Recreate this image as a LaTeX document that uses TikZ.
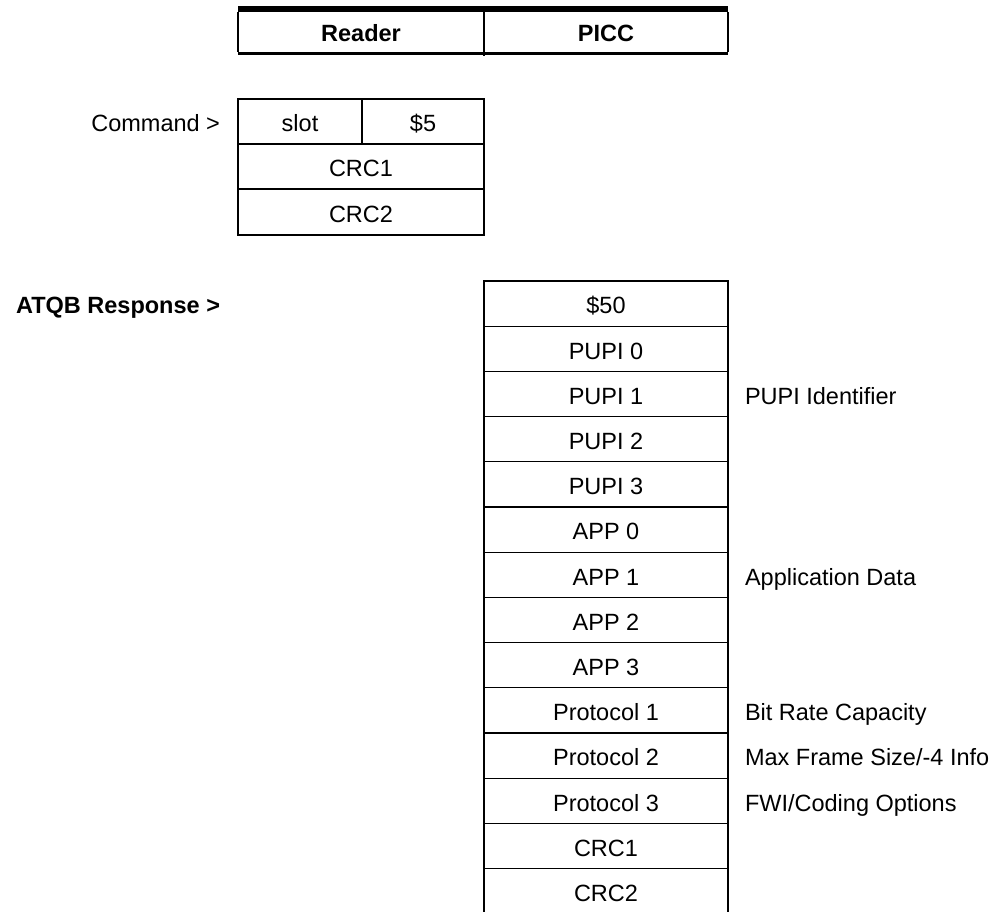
\documentclass[tikz,border=0pt]{standalone}
\usepackage{fontspec}
\setmainfont{Liberation Sans}
\newcommand\cellfont{\fontsize{23.5}{28}\selectfont}
\begin{document}
\begin{tikzpicture}[x=1pt,y=-1pt,
  cell/.style={draw, line width=1.2pt, inner sep=0pt, outer sep=0pt,
    minimum height=45.2pt, text height=20.5pt, text depth=0pt, font=\cellfont},
  lbl/.style={inner sep=0pt, outer sep=0pt, text height=20.5pt, text depth=0pt, font=\cellfont},
  thinrule/.style={line width=1.2pt}]
\clip (0,0) rectangle (1008,911);
% header
\draw[line width=6pt] (238,9) -- (728,9);
\draw[line width=3pt] (238,53.5) -- (728,53.5);
\draw[thinrule] (238,12) -- (238,52);
\draw[thinrule] (728,12) -- (728,52);
\draw[thinrule] (484,12) -- (484,56);
\node[lbl, font=\cellfont\bfseries] (hreader) at (361,31) {Reader};
\node[lbl, font=\cellfont\bfseries] (hpicc) at (606,31) {PICC};
% command
\node[lbl, anchor=east] (cmdlbl) at (220,121.5) {Command >};
\node[cell, minimum width=124pt, minimum height=45pt] (slot) at (300,121.5) {slot};
\node[cell, minimum width=122pt, minimum height=45pt] (five) at (423,121.5) {\$5};
\node[cell, minimum width=246pt, minimum height=45pt] (ccrc1) at (361,166.5) {CRC1};
\node[cell, minimum width=246pt, minimum height=46pt] (ccrc2) at (361,212) {CRC2};
% response
\node[lbl, anchor=east, font=\cellfont\bfseries] (atqb) at (220,303.6) {ATQB Response >};
\foreach \t [count=\i from 0] in {\$50,PUPI 0,PUPI 1,PUPI 2,PUPI 3,APP 0,APP 1,APP 2,APP 3,Protocol 1,Protocol 2,Protocol 3,CRC1,CRC2}
  \node[cell, minimum width=244pt] (r\i) at (606,{281+45.2*\i+22.6}) {\t};
\node[lbl, anchor=west] (lpupi) at (745,{281+45.2*2+22.6}) {PUPI Identifier};
\node[lbl, anchor=west] (lapp) at (745,{281+45.2*6+22.6}) {Application Data};
\node[lbl, anchor=west] (lbit) at (745,{281+45.2*9+22.6}) {Bit Rate Capacity};
\node[lbl, anchor=west] (lmax) at (745,{281+45.2*10+22.6}) {Max Frame Size/-4 Info};
\node[lbl, anchor=west] (lfwi) at (745,{281+45.2*11+22.6}) {FWI/Coding Options};
\end{tikzpicture}
\end{document}
